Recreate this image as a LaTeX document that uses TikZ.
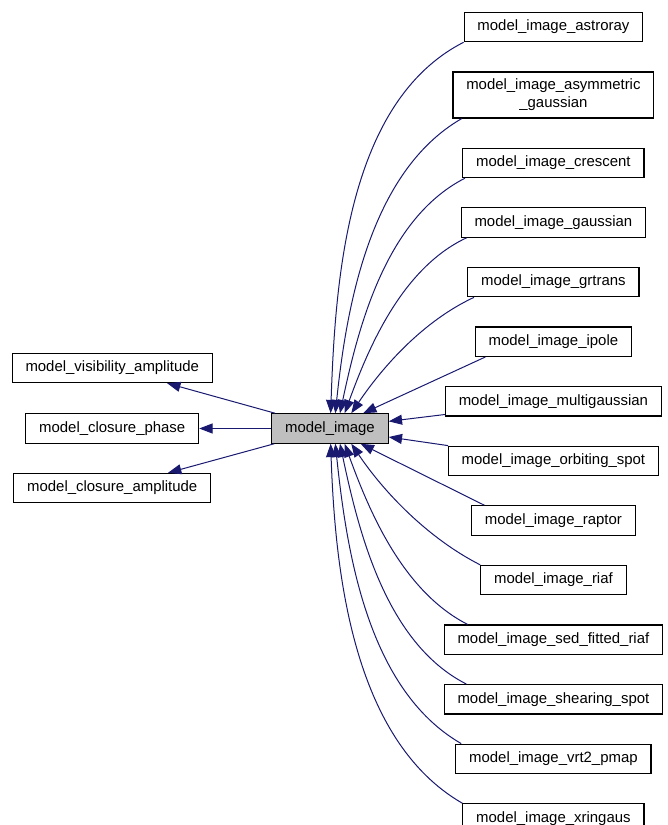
\documentclass[tikz,border=0pt]{standalone}
\usepackage{fontspec}
\setmainfont{Liberation Sans}
\usetikzlibrary{positioning,arrows.meta}
\definecolor{midnight}{HTML}{191970}
\definecolor{basegray}{HTML}{BFBFBF}
\tikzset{
    cls/.style={draw=black, line width=0.9pt, fill=white, minimum height=22pt,
        inner xsep=10pt, inner ysep=2pt, align=center},
    edge/.style={draw=midnight, line width=0.75pt,
        -{Triangle[length=10pt, width=7.5pt]}},
}
\begin{document}
\begin{tikzpicture}[font=\fontsize{11.2pt}{13.5pt}\selectfont, node distance=21.8pt]
    \useasboundingbox (-247.5pt,321.4pt) rectangle (253.5pt,-297.4pt);
    \node [cls, fill=basegray] (mi) at (0,0) {model\_image};
    \node [cls, left = 54pt of mi] (phase) {model\_closure\_phase};
    \node [cls, above = 22.5pt of phase] (vis) {model\_visibility\_amplitude};
    \node [cls, below = 21.8pt of phase] (amp) {model\_closure\_amplitude};
    \node [cls] (astroray) at (167.6pt,301.1pt) {model\_image\_astroray};
    \node [cls, below = of astroray, minimum height=34.5pt] (asym) {model\_image\_asymmetric\\\_gaussian};
    \node [cls, below = of asym] (crescent) {model\_image\_crescent};
    \node [cls, below = of crescent] (gauss) {model\_image\_gaussian};
    \node [cls, below = of gauss] (grtrans) {model\_image\_grtrans};
    \node [cls, below = of grtrans] (ipole) {model\_image\_ipole};
    \node [cls, below = of ipole] (multi) {model\_image\_multigaussian};
    \node [cls, below = of multi] (orbit) {model\_image\_orbiting\_spot};
    \node [cls, below = of orbit] (raptor) {model\_image\_raptor};
    \node [cls, below = of raptor] (riaf) {model\_image\_riaf};
    \node [cls, below = of riaf] (sed) {model\_image\_sed\_fitted\_riaf};
    \node [cls, below = of sed] (shear) {model\_image\_shearing\_spot};
    \node [cls, below = of shear] (vrt) {model\_image\_vrt2\_pmap};
    \node [cls, below = of vrt] (xring) {model\_image\_xringaus};

    \draw [edge] (mi) -- (vis);
    \draw [edge] (mi) -- (phase);
    \draw [edge] (mi) -- (amp);

    \draw [edge] (astroray.south west) to [out=207, in=88, looseness=0.85] ([xshift=0.5pt]mi.north);
    \draw [edge] ([xshift=7pt]asym.south west) to [out=210, in=84, looseness=0.85] ([xshift=4pt]mi.north);
    \draw [edge] ([xshift=2pt]crescent.south west) to [out=207, in=78, looseness=0.85] ([xshift=7.5pt]mi.north);
    \draw [edge] ([xshift=4.5pt]gauss.south west) to [out=205, in=70, looseness=0.85] ([xshift=11pt]mi.north);
    \draw [edge] ([xshift=5pt]grtrans.south west) to [out=205, in=56, looseness=0.85] ([xshift=16pt]mi.north);
    \draw [edge] ([xshift=8pt]ipole.south west) -- (mi);
    \draw [edge] (multi) -- (mi);
    \draw [edge] (orbit) -- (mi);
    \draw [edge] ([xshift=10pt]raptor.north west) -- (mi);
    \draw [edge] (riaf.north west) to [out=153, in=-56, looseness=0.85] ([xshift=16pt]mi.south);
    \draw [edge] ([xshift=18pt]sed.north west) to [out=153, in=-70, looseness=0.85] ([xshift=11pt]mi.south);
    \draw [edge] ([xshift=17pt]shear.north west) to [out=153, in=-78, looseness=0.85] ([xshift=7.5pt]mi.south);
    \draw [edge] ([xshift=4.5pt]vrt.north west) to [out=150, in=-84, looseness=0.85] ([xshift=4pt]mi.south);
    \draw [edge] (xring.north west) to [out=150, in=-88, looseness=0.85] ([xshift=0.5pt]mi.south);
\end{tikzpicture}
\end{document}
